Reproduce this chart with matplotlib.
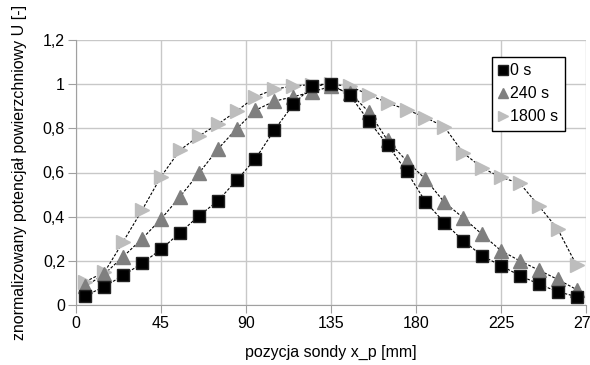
import matplotlib
matplotlib.use("Agg")
import matplotlib.pyplot as plt
from matplotlib.ticker import FuncFormatter

plt.rcParams['font.family'] = ['Liberation Sans', 'DejaVu Sans']

x_mm = [5, 15, 25, 35, 45, 55, 65, 75, 85, 95, 105, 115, 125, 135,
        145, 155, 165, 175, 185, 195, 205, 215, 225, 235, 245, 255, 265]

u_0s = [0.042, 0.083, 0.134, 0.189, 0.252, 0.327, 0.403, 0.471, 0.564, 0.662,
        0.792, 0.908, 0.991, 1.0, 0.950, 0.833, 0.724, 0.605, 0.468, 0.373,
        0.291, 0.223, 0.178, 0.133, 0.095, 0.060, 0.038]

u_240s = [0.085, 0.140, 0.219, 0.300, 0.389, 0.490, 0.596, 0.705, 0.798, 0.882,
          0.923, 0.943, 0.965, 0.99, 0.96, 0.875, 0.745, 0.653, 0.570, 0.465,
          0.395, 0.320, 0.246, 0.200, 0.158, 0.116, 0.07]

u_1800s = [0.106, 0.148, 0.287, 0.430, 0.581, 0.701, 0.765, 0.818, 0.878, 0.943,
           0.977, 0.992, 0.998, 1.0, 0.99, 0.953, 0.915, 0.885, 0.849, 0.807,
           0.689, 0.621, 0.578, 0.551, 0.449, 0.344, 0.180]

labels = ['0 s', '240 s', '1800 s']
x_ticks = [0, 45, 90, 135, 180, 225, 270]
y_ticks = [0, 0.2, 0.4, 0.6, 0.8, 1.0, 1.2]

FS = 11.5

fig = plt.figure(figsize=(5.9, 3.65), dpi=100)
ax = fig.add_axes([76/590, 1-305/365, (586-76)/590, (305-40)/365])

line_kw = dict(color='black', lw=0.8, ls=(0, (2.5, 1.5)))
ax.plot(x_mm, u_1800s, **line_kw, zorder=2)
ax.plot(x_mm, u_240s, **line_kw, zorder=2)
ax.plot(x_mm, u_0s, **line_kw, zorder=2)

ax.plot(x_mm, u_1800s, ls='none', marker='>', ms=9.5, color='#bdbdbd',
        mec='#bdbdbd', label=labels[2], zorder=3)
ax.plot(x_mm, u_240s, ls='none', marker='^', ms=9.5, color='#7f7f7f',
        mec='#7f7f7f', label=labels[1], zorder=4)
ax.plot(x_mm, u_0s, ls='none', marker='s', ms=9.3, color='black',
        mec='#222222', label=labels[0], zorder=5)

ax.set_xlim(0, 270)
ax.set_ylim(0, 1.2)
ax.set_xticks(x_ticks)
ax.set_yticks(y_ticks)
ax.yaxis.set_major_formatter(FuncFormatter(
    lambda v, p: ('%g' % round(v, 1)).replace('.', ',')))
ax.grid(True, color='#c8c8c8', lw=1.0)
ax.set_axisbelow(True)
for s in ['top', 'right']:
    ax.spines[s].set_visible(False)
for s in ['left', 'bottom']:
    ax.spines[s].set_color('#a0a0a0')
ax.tick_params(axis='both', colors='#a0a0a0', labelcolor='black',
               labelsize=FS, length=6, pad=2)

ax.set_xlabel('pozycja sondy x_p [mm]', fontsize=FS, labelpad=10)
ax.set_ylabel('znormalizowany potencjał powierzchniowy U [-]', fontsize=FS,
              labelpad=11)

h, l = ax.get_legend_handles_labels()
order = [2, 1, 0]
leg = ax.legend([h[i] for i in order], [l[i] for i in order],
                loc='upper right', bbox_to_anchor=(565/590, 1-57/365),
                bbox_transform=fig.transFigure, fontsize=FS,
                frameon=True, fancybox=False, framealpha=1, edgecolor='black',
                handlelength=0.6, handletextpad=0.15, borderpad=0.4,
                labelspacing=0.5, borderaxespad=0, markerscale=0.75)
leg.get_frame().set_linewidth(1.0)

fig.savefig('out.png', dpi=100)
